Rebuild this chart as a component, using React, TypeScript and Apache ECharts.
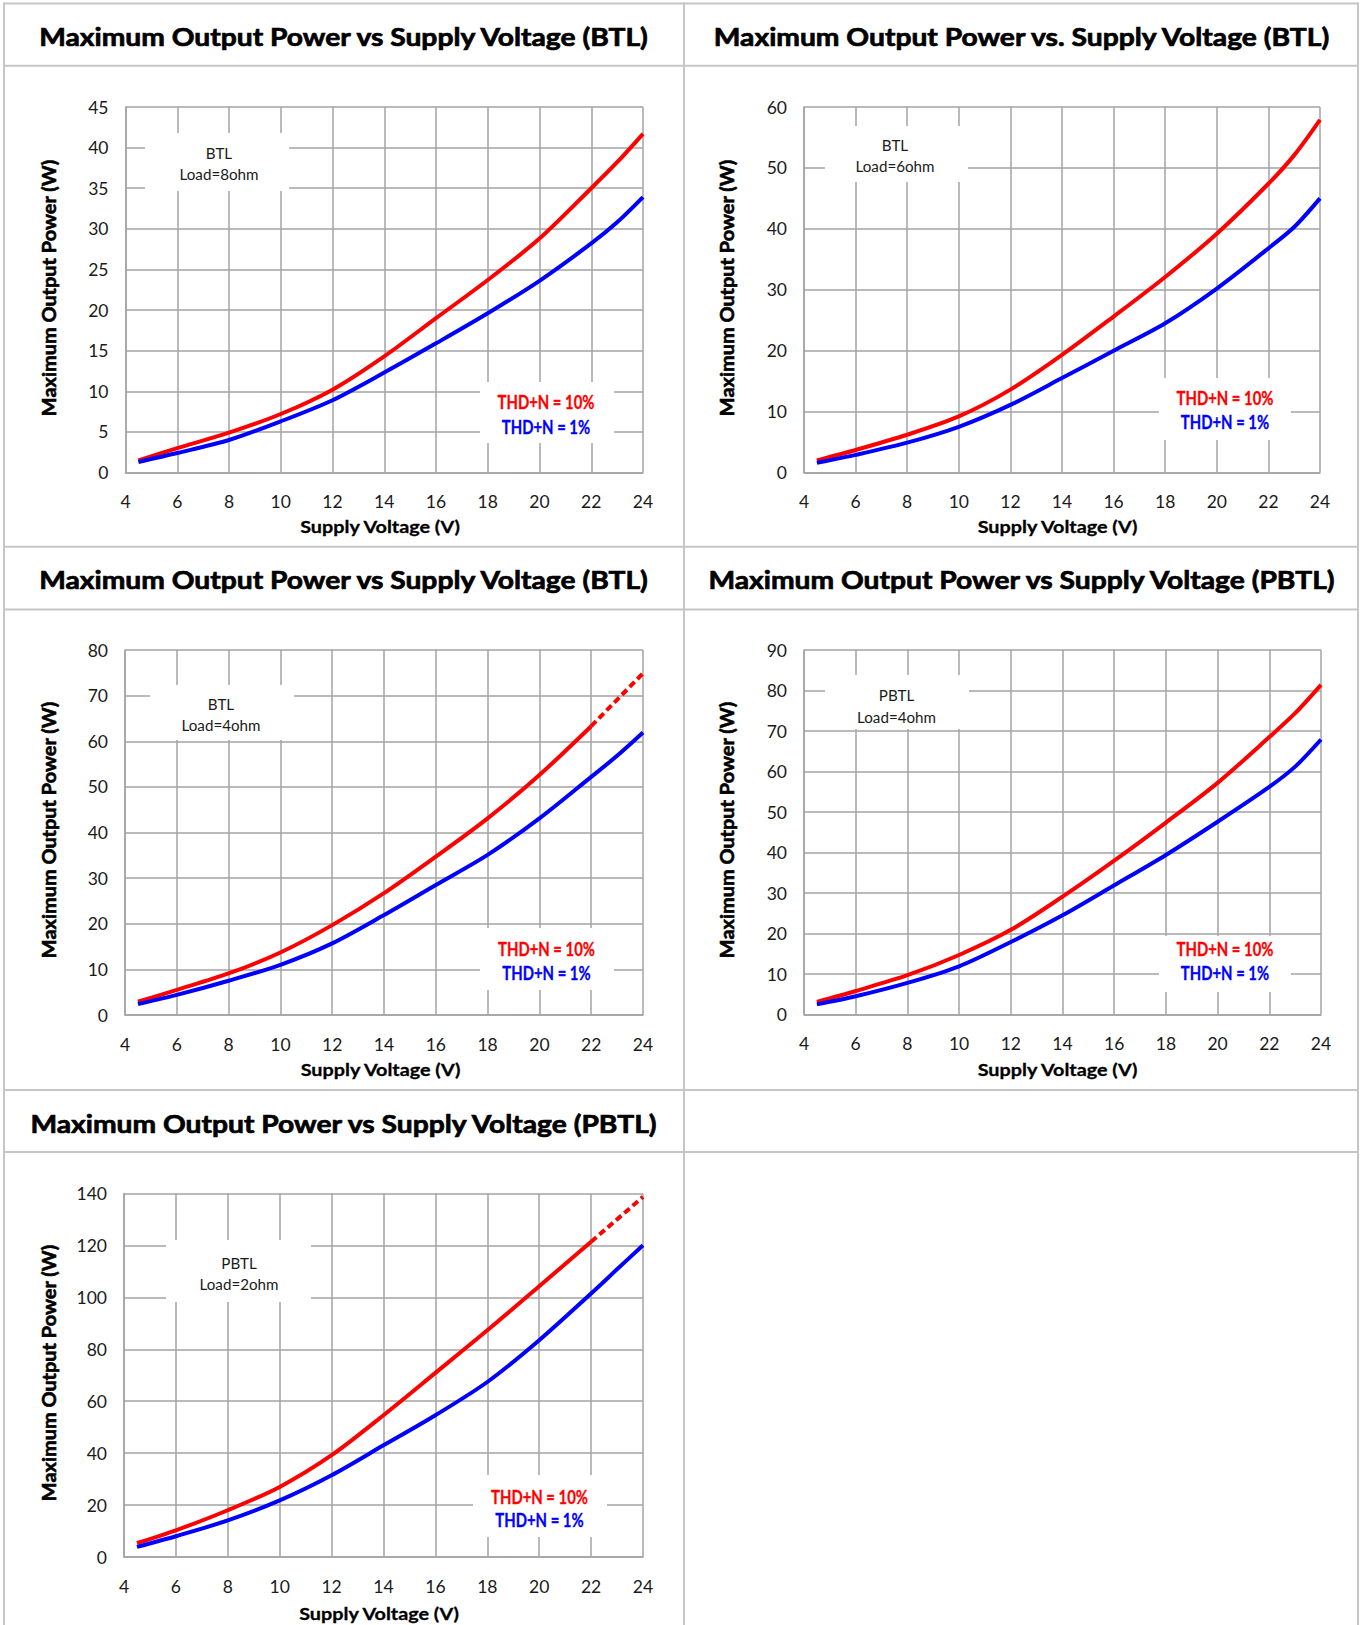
import React, { useEffect, useRef } from "react";
import * as echarts from "echarts";

// ---------------- data ----------------
const VOLTS = [4.5, 6, 8, 10, 12, 14, 16, 18, 20, 22, 23, 24];
const VOLTS_TO_22 = [4.5, 6, 8, 10, 12, 14, 16, 18, 20, 22];
const VOLTS_EXT = [22, 24];

// BTL, 8 ohm
const BTL8_THD10 = [1.5, 3.0, 4.9, 7.2, 10.2, 14.3, 19.0, 23.7, 28.8, 35.0, 38.2, 41.7];
const BTL8_THD1 = [1.3, 2.4, 4.0, 6.3, 8.9, 12.3, 15.9, 19.6, 23.6, 28.2, 30.8, 33.9];
// BTL, 6 ohm
const BTL6_THD10 = [2.0, 3.7, 6.2, 9.2, 13.6, 19.3, 25.6, 32.1, 39.2, 47.4, 52.1, 57.9];
const BTL6_THD1 = [1.6, 2.9, 4.9, 7.5, 11.1, 15.5, 20.0, 24.5, 30.2, 36.8, 40.3, 45.0];
// BTL, 4 ohm (10% curve measured to 22 V, dashed extrapolation to 24 V)
const BTL4_THD10 = [2.9, 5.5, 9.1, 13.7, 19.7, 26.7, 34.7, 43.1, 52.6, 63.3];
const BTL4_THD10_EXT = [63.3, 74.9];
const BTL4_THD1 = [2.4, 4.4, 7.5, 11.0, 15.7, 21.9, 28.5, 35.1, 43.1, 52.2, 56.8, 61.9];
// PBTL, 4 ohm
const PBTL4_THD10 = [3.1, 5.8, 9.7, 14.7, 20.9, 29.1, 38.0, 47.4, 57.2, 68.5, 74.4, 81.4];
const PBTL4_THD1 = [2.5, 4.5, 7.8, 11.9, 17.9, 24.5, 31.9, 39.4, 47.6, 56.2, 61.2, 67.9];
// PBTL, 2 ohm (10% curve measured to 22 V, dashed extrapolation to 24 V)
const PBTL2_THD10 = [5.4, 10.3, 18.0, 27.0, 39.2, 54.6, 70.9, 87.3, 104.3, 121.4];
const PBTL2_THD10_EXT = [121.4, 138.7];
const PBTL2_THD1 = [3.9, 8.0, 14.1, 21.8, 31.5, 43.0, 54.6, 67.4, 83.5, 101.5, 110.8, 120.1];

const TITLES = [
  "Maximum Output Power vs Supply Voltage (BTL)",
  "Maximum Output Power vs. Supply Voltage (BTL)",
  "Maximum Output Power vs Supply Voltage (BTL)",
  "Maximum Output Power vs Supply Voltage (PBTL)",
  "Maximum Output Power vs Supply Voltage (PBTL)",
];
const MODES = ["BTL", "BTL", "BTL", "PBTL", "PBTL"];
const LOADS = ["Load=8ohm", "Load=6ohm", "Load=4ohm", "Load=4ohm", "Load=2ohm"];
const X_MIN = 4;
const X_MAX = 24;
const X_STEP = 2;
const Y_MAX = [45, 60, 80, 90, 140];
const Y_STEP = [5, 10, 10, 10, 20];
const LEGEND_10 = "THD+N = 10%";
const LEGEND_1 = "THD+N = 1%";
const X_NAME = "Supply Voltage (V)";
const Y_NAME = "Maximum Output Power (W)";

const SERIES = [
  { thd10: [VOLTS, BTL8_THD10], ext: null, thd1: [VOLTS, BTL8_THD1] },
  { thd10: [VOLTS, BTL6_THD10], ext: null, thd1: [VOLTS, BTL6_THD1] },
  { thd10: [VOLTS_TO_22, BTL4_THD10], ext: [VOLTS_EXT, BTL4_THD10_EXT], thd1: [VOLTS, BTL4_THD1] },
  { thd10: [VOLTS, PBTL4_THD10], ext: null, thd1: [VOLTS, PBTL4_THD1] },
  { thd10: [VOLTS_TO_22, PBTL2_THD10], ext: [VOLTS_EXT, PBTL2_THD10_EXT], thd1: [VOLTS, PBTL2_THD1] },
];

// ---------------- layout ----------------
const PANELS = [
  { grid: { left: 125.5, top: 107, width: 517.5, height: 365.5 }, title: [343.5, 37], yName: [49, 288], xName: [380, 526], box: [145, 133, 144, 58], boxText: [219, 152.5, 174.3], legBox: [480, 382, 134, 61], legText: [546, 402.2, 427] },
  { grid: { left: 804, top: 107, width: 516, height: 365.5 }, title: [1021.5, 37], yName: [727, 288], xName: [1057.5, 526], box: [825, 126, 143, 56], boxText: [895, 145.2, 166.2], legBox: [1159, 378, 132, 62], legText: [1225, 398.3, 421.7] },
  { grid: { left: 125, top: 650, width: 518, height: 365 }, title: [343.5, 580], yName: [49, 830], xName: [380.5, 1069.5], box: [150, 685, 144, 55], boxText: [221, 704.2, 725.2], legBox: [480, 928, 134, 62], legText: [546.5, 949.3, 973.3] },
  { grid: { left: 804, top: 650, width: 517, height: 364.5 }, title: [1021.5, 580], yName: [727, 830], xName: [1057.5, 1069.5], box: [825, 675, 144, 54], boxText: [896.5, 695, 716.8], legBox: [1159, 936, 132, 56], legText: [1225, 949.3, 973.3] },
  { grid: { left: 124, top: 1193.5, width: 519, height: 363.5 }, title: [343.5, 1123.5], yName: [49, 1373], xName: [379, 1613], box: [166, 1240, 145, 62], boxText: [239, 1262.5, 1283.8], legBox: [473, 1475, 134, 62], legText: [539.5, 1496.7, 1520] },
];

const BORDER_V = [4, 684, 1358];
const BORDER_H = [3.5, 65.7, 546.7, 609.5, 1090, 1152];

const GRID_COLOR = "#a3a3a3";
const BORDER_COLOR = "#c6c6c6";
const RED = "#ff0000";
const BLUE = "#0000ff";

function makeMeasurer() {
  const canvas = document.createElement("canvas");
  const ctx = canvas.getContext("2d") as CanvasRenderingContext2D;
  const measure = (text: string, size: number, family: string, weight: string) => {
    ctx.font = `${weight} ${size}px ${family}`;
    return ctx.measureText(text).width;
  };
  const has = (name: string) => {
    const t = "abcdefghijklmnopqrstuvwxyz0123456789ABCDEFG";
    for (const base of ["monospace", "serif"]) {
      ctx.font = `40px ${base}`;
      const a = ctx.measureText(t).width;
      ctx.font = `40px "${name}", ${base}`;
      const b = ctx.measureText(t).width;
      if (Math.abs(a - b) > 0.5) return true;
    }
    return false;
  };
  return { measure, has };
}

export default function App() {
  const ref = useRef<HTMLDivElement>(null);

  useEffect(() => {
    if (!ref.current) return;
    const { measure, has } = makeMeasurer();
    const narrow = has("Liberation Sans Narrow");
    const TICK_FONT = narrow ? '"Liberation Sans Narrow", sans-serif' : '"Lato", sans-serif';
    const TICK_SIZE = narrow ? 19 : 17.5;
    const HEAD_FONT = '"Lato", "DejaVu Sans", sans-serif';
    const CAL_FONT = '"Lato", sans-serif';

    const titleSize = 25;
    const titleWeight = "bold";
    const titleScale = 612 / measure(TITLES[0], titleSize, HEAD_FONT, titleWeight);
    const yNameSize = 18.5;
    const yNameScale = 257 / measure(Y_NAME, yNameSize, HEAD_FONT, titleWeight);
    const xNameSize = 17.5;
    const xNameScale = 161 / measure(X_NAME, xNameSize, CAL_FONT, "bold");
    const boxSize = 16;
    const boxScale = 79 / measure(LOADS[0], boxSize, CAL_FONT, "normal");
    const legSize = 18.5;
    const legScale = 97 / measure(LEGEND_10, legSize, CAL_FONT, "bold");

    const elements: any[] = [];
    BORDER_V.forEach((x) =>
      elements.push({ type: "line", z: 20, shape: { x1: x, y1: 2.5, x2: x, y2: 1625 }, style: { stroke: BORDER_COLOR, lineWidth: 2 } })
    );
    BORDER_H.forEach((y) =>
      elements.push({ type: "line", z: 20, shape: { x1: 3, y1: y, x2: 1359, y2: y }, style: { stroke: BORDER_COLOR, lineWidth: 2 } })
    );

    const text = (t: string, x: number, y: number, size: number, family: string, weight: string, fill: string, scale: number, rotation = 0, heavy = 0) => ({
      type: "text",
      z: 30,
      x,
      y,
      rotation,
      scaleX: scale,
      style: {
        text: t, fontSize: size, fontFamily: family, fontWeight: weight, fill, align: "center", verticalAlign: "middle",
        ...(heavy > 0 ? { stroke: fill, lineWidth: heavy } : {}),
      },
    });

    PANELS.forEach((p, i) => {
      elements.push(text(TITLES[i], p.title[0], p.title[1], titleSize, HEAD_FONT, titleWeight, "#000000", titleScale, 0, 0.7));
      elements.push(text(Y_NAME, p.yName[0], p.yName[1], yNameSize, HEAD_FONT, titleWeight, "#000000", yNameScale, Math.PI / 2, 0.6));
      elements.push(text(X_NAME, p.xName[0], p.xName[1], xNameSize, CAL_FONT, "bold", "#000000", xNameScale, 0, 0.3));
      elements.push({ type: "rect", z: 1, shape: { x: p.box[0], y: p.box[1], width: p.box[2], height: p.box[3] }, style: { fill: "#ffffff" } });
      elements.push(text(MODES[i], p.boxText[0], p.boxText[1], boxSize, CAL_FONT, "normal", "#1a1a1a", boxScale));
      elements.push(text(LOADS[i], p.boxText[0], p.boxText[2], boxSize, CAL_FONT, "normal", "#1a1a1a", boxScale));
      elements.push({ type: "rect", z: 1, shape: { x: p.legBox[0], y: p.legBox[1], width: p.legBox[2], height: p.legBox[3] }, style: { fill: "#ffffff" } });
      elements.push(text(LEGEND_10, p.legText[0], p.legText[1], legSize, CAL_FONT, "bold", RED, legScale, 0, 0.3));
      elements.push(text(LEGEND_1, p.legText[0], p.legText[2], legSize, CAL_FONT, "bold", BLUE, legScale, 0, 0.3));
    });

    const zip = (xs: number[], ys: number[]) => xs.map((x, k) => [x, ys[k]]);
    const series: any[] = [];
    SERIES.forEach((s, i) => {
      series.push({
        type: "line", name: LEGEND_10, xAxisIndex: i, yAxisIndex: i, data: zip(s.thd10[0], s.thd10[1]),
        smooth: 0.3, showSymbol: false, symbol: "none", z: 3, lineStyle: { color: RED, width: 4 },
      });
      if (s.ext) {
        series.push({
          type: "line", name: LEGEND_10 + " (ext)", xAxisIndex: i, yAxisIndex: i, data: zip(s.ext[0], s.ext[1]),
          showSymbol: false, symbol: "none", z: 3, lineStyle: { color: RED, width: 4, type: [7, 4] },
        });
      }
      series.push({
        type: "line", name: LEGEND_1, xAxisIndex: i, yAxisIndex: i, data: zip(s.thd1[0], s.thd1[1]),
        smooth: 0.3, showSymbol: false, symbol: "none", z: 4, lineStyle: { color: BLUE, width: 4 },
      });
    });

    const axisLineStyle = { color: GRID_COLOR, width: 1.5 };
    const option: any = {
      animation: false,
      backgroundColor: "#ffffff",
      grid: PANELS.map((p) => ({ ...p.grid, containLabel: false })),
      xAxis: PANELS.map((_, i) => ({
        type: "value", gridIndex: i, min: X_MIN, max: X_MAX, interval: X_STEP,
        axisLine: { show: true, lineStyle: axisLineStyle },
        axisTick: { show: false },
        splitLine: { show: true, lineStyle: axisLineStyle },
        axisLabel: { margin: 20, fontSize: TICK_SIZE, fontFamily: TICK_FONT, color: "#1a1a1a" },
      })),
      yAxis: PANELS.map((_, i) => ({
        type: "value", gridIndex: i, min: 0, max: Y_MAX[i], interval: Y_STEP[i],
        axisLine: { show: true, lineStyle: axisLineStyle },
        axisTick: { show: false },
        splitLine: { show: true, lineStyle: axisLineStyle },
        axisLabel: { margin: 17, fontSize: TICK_SIZE, fontFamily: TICK_FONT, color: "#1a1a1a" },
      })),
      series,
      graphic: { elements },
    };

    const chart = echarts.init(ref.current, null, { renderer: "svg" });
    chart.setOption(option);
    return () => chart.dispose();
  }, []);

  return (
    <div
      ref={ref}
      style={{ position: "absolute", left: 0, top: 0, width: 1360, height: 1625, background: "#fff" }}
    />
  );
}
